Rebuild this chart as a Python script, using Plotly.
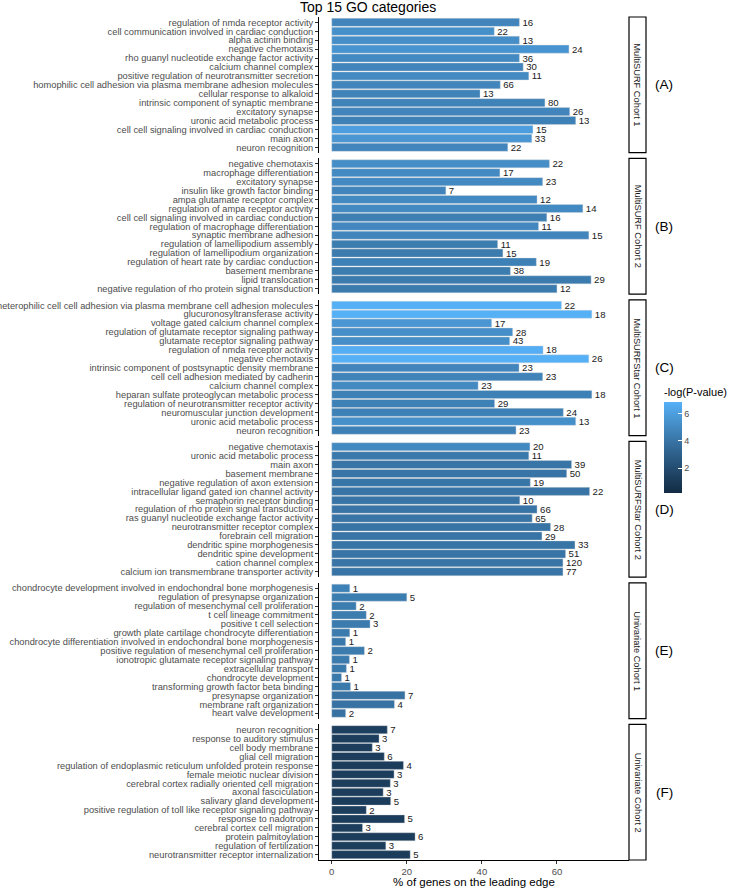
import numpy as np
import plotly.graph_objects as go
from plotly.subplots import make_subplots

# facet labels
panels = ["MultiSURF Cohort 1", "MultiSURF Cohort 2", "MultiSURFStar Cohort 1",
          "MultiSURFStar Cohort 2", "Univariate Cohort 1", "Univariate Cohort 2"]
tags = ["(A)", "(B)", "(C)", "(D)", "(E)", "(F)"]

# (A) MultiSURF Cohort 1
terms_a = ["regulation of nmda receptor activity", "cell communication involved in cardiac conduction",
           "alpha actinin binding", "negative chemotaxis", "rho guanyl nucleotide exchange factor activity",
           "calcium channel complex", "positive regulation of neurotransmitter secretion",
           "homophilic cell adhesion via plasma membrane adhesion molecules", "cellular response to alkaloid",
           "intrinsic component of synaptic membrane", "excitatory synapse", "uronic acid metabolic process",
           "cell cell signaling involved in cardiac conduction", "main axon", "neuron recognition"]
pct_a = [50.0, 43.3, 50.0, 63.2, 50.0, 51.0, 52.5, 44.9, 39.5, 56.8, 63.4, 65.0, 53.6, 53.3, 46.9]
count_a = [16, 22, 13, 24, 36, 30, 11, 66, 13, 80, 26, 13, 15, 33, 22]
logp_a = [4.8, 5.3, 5.2, 5.5, 5.0, 4.8, 5.1, 4.8, 4.7, 4.7, 4.8, 4.6, 6.0, 5.6, 4.8]

# (B) MultiSURF Cohort 2
terms_b = ["negative chemotaxis", "macrophage differentiation", "excitatory synapse",
           "insulin like growth factor binding", "ampa glutamate receptor complex",
           "regulation of ampa receptor activity", "cell cell signaling involved in cardiac conduction",
           "regulation of macrophage differentiation", "synaptic membrane adhesion",
           "regulation of lamellipodium assembly", "regulation of lamellipodium organization",
           "regulation of heart rate by cardiac conduction", "basement membrane", "lipid translocation",
           "negative regulation of rho protein signal transduction"]
pct_b = [58.0, 44.8, 56.2, 30.4, 54.7, 66.9, 57.3, 55.1, 68.5, 44.2, 45.6, 54.5, 47.6, 69.1, 60.0]
count_b = [22, 17, 23, 7, 12, 14, 16, 11, 15, 11, 15, 19, 38, 29, 12]
logp_b = [5.2, 5.0, 5.0, 4.8, 5.0, 5.0, 4.5, 4.9, 4.8, 4.4, 4.3, 4.6, 4.4, 4.3, 4.3]

# (C) MultiSURFStar Cohort 1
terms_c = ["heterophilic cell cell adhesion via plasma membrane cell adhesion molecules",
           "glucuronosyltransferase activity", "voltage gated calcium channel complex",
           "regulation of glutamate receptor signaling pathway", "glutamate receptor signaling pathway",
           "regulation of nmda receptor activity", "negative chemotaxis",
           "intrinsic component of postsynaptic density membrane", "cell cell adhesion mediated by cadherin",
           "calcium channel complex", "heparan sulfate proteoglycan metabolic process",
           "regulation of neurotransmitter receptor activity", "neuromuscular junction development",
           "uronic acid metabolic process", "neuron recognition"]
pct_c = [61.2, 69.3, 42.6, 48.2, 47.4, 56.3, 68.5, 49.9, 56.2, 39.0, 69.3, 43.4, 61.7, 65.0, 49.1]
count_c = [22, 18, 17, 28, 43, 18, 26, 23, 23, 23, 18, 29, 24, 13, 23]
logp_c = [6.8, 6.8, 5.6, 5.2, 5.2, 6.7, 6.8, 4.8, 4.7, 5.0, 4.6, 4.6, 4.6, 5.3, 4.6]

# (D) MultiSURFStar Cohort 2
terms_d = ["negative chemotaxis", "uronic acid metabolic process", "main axon", "basement membrane",
           "negative regulation of axon extension", "intracellular ligand gated ion channel activity",
           "semaphorin receptor binding", "regulation of rho protein signal transduction",
           "ras guanyl nucleotide exchange factor activity", "neurotransmitter receptor complex",
           "forebrain cell migration", "dendritic spine morphogenesis", "dendritic spine development",
           "cation channel complex", "calcium ion transmembrane transporter activity"]
pct_d = [52.8, 52.5, 63.9, 62.6, 52.9, 68.7, 50.1, 54.7, 53.4, 58.3, 56.0, 64.8, 62.3, 61.6, 61.6]
count_d = [20, 11, 39, 50, 19, 22, 10, 66, 65, 28, 29, 33, 51, 120, 77]
logp_d = [5.0, 4.2, 4.0, 4.0, 4.1, 4.0, 4.0, 4.0, 4.0, 4.0, 4.0, 4.0, 4.0, 4.0, 4.0]

# (E) Univariate Cohort 1
terms_e = ["chondrocyte development involved in endochondral bone morphogenesis",
           "regulation of presynapse organization", "regulation of mesenchymal cell proliferation",
           "t cell lineage commitment", "positive t cell selection",
           "growth plate cartilage chondrocyte differentiation",
           "chondrocyte differentiation involved in endochondral bone morphogenesis",
           "positive regulation of mesenchymal cell proliferation",
           "ionotropic glutamate receptor signaling pathway", "extracellular transport",
           "chondrocyte development", "transforming growth factor beta binding", "presynapse organization",
           "membrane raft organization", "heart valve development"]
pct_e = [4.8, 20.0, 6.5, 9.2, 10.2, 4.8, 3.7, 8.7, 4.7, 3.9, 2.6, 5.0, 19.5, 16.7, 3.7]
count_e = [1, 5, 2, 2, 3, 1, 1, 2, 1, 1, 1, 1, 7, 4, 2]
logp_e = [4.6, 4.4, 4.4, 4.4, 4.3, 4.3, 4.2, 4.3, 4.3, 4.2, 4.2, 4.2, 3.9, 3.9, 3.9]

# (F) Univariate Cohort 2
terms_f = ["neuron recognition", "response to auditory stimulus", "cell body membrane",
           "glial cell migration", "regulation of endoplasmic reticulum unfolded protein response",
           "female meiotic nuclear division", "cerebral cortex radially oriented cell migration",
           "axonal fasciculation", "salivary gland development",
           "positive regulation of toll like receptor signaling pathway", "response to nadotropin",
           "cerebral cortex cell migration", "protein palmitoylation", "regulation of fertilization",
           "neurotransmitter receptor internalization"]
pct_f = [14.8, 12.6, 10.8, 14.0, 19.1, 16.6, 15.6, 13.7, 15.7, 9.2, 19.4, 8.2, 22.2, 14.4, 20.9]
count_f = [7, 3, 3, 6, 4, 3, 3, 3, 5, 2, 5, 3, 6, 3, 5]
logp_f = [1.3, 1.2, 1.2, 1.2, 1.1, 1.2, 1.2, 1.2, 1.1, 1.2, 1.1, 1.2, 1.1, 1.2, 1.1]

x_ticks = [0, 20, 40, 60]
cb_ticks = [2, 4, 6]

all_terms = [terms_a, terms_b, terms_c, terms_d, terms_e, terms_f]
all_pct = [pct_a, pct_b, pct_c, pct_d, pct_e, pct_f]
all_count = [count_a, count_b, count_c, count_d, count_e, count_f]
all_logp = [logp_a, logp_b, logp_c, logp_d, logp_e, logp_f]


# ggplot-like gradient (interpolated in Lab space)
def hex_to_lab(h):
    c = np.array([int(h[i:i + 2], 16) for i in (1, 3, 5)]) / 255
    c = np.where(c <= 0.04045, c / 12.92, ((c + 0.055) / 1.055) ** 2.4)
    m = np.array([[0.4124, 0.3576, 0.1805], [0.2126, 0.7152, 0.0722], [0.0193, 0.1192, 0.9505]])
    xyz = m @ c / (m @ np.ones(3))
    f = np.where(xyz > 0.008856, np.cbrt(xyz), 7.787 * xyz + 16 / 116)
    return np.array([116 * f[1] - 16, 500 * (f[0] - f[1]), 200 * (f[1] - f[2])])


def lab_to_hex(lab):
    fy = (lab[0] + 16) / 116
    f = np.array([fy + lab[1] / 500, fy, fy - lab[2] / 200])
    m = np.array([[0.4124, 0.3576, 0.1805], [0.2126, 0.7152, 0.0722], [0.0193, 0.1192, 0.9505]])
    xyz = np.where(f ** 3 > 0.008856, f ** 3, (f - 16 / 116) / 7.787) * (m @ np.ones(3))
    c = np.linalg.solve(m, xyz)
    c = np.where(c <= 0.0031308, 12.92 * c, 1.055 * np.abs(c) ** (1 / 2.4) - 0.055)
    c = np.clip(np.round(c * 255), 0, 255).astype(int)
    return "#%02x%02x%02x" % tuple(c)


lo, hi = hex_to_lab("#132B43"), hex_to_lab("#56B1F7")
scale = [[t, lab_to_hex(lo + (hi - lo) * t)] for t in np.linspace(0, 1, 11)]

# panel area spans 310 px of the 410 px paper; the rest holds strips, tags and colour bar
W_PAPER = 410
X_END = 310 / W_PAPER
STRIP_W = 17 / W_PAPER
SIDE_X = (664 - 319) / W_PAPER

fig = make_subplots(rows=6, cols=1, shared_xaxes=True, vertical_spacing=5.8 / 843)

for i in range(6):
    fig.add_trace(go.Bar(
        x=all_pct[i], y=all_terms[i], orientation="h",
        marker=dict(color=all_logp[i], coloraxis="coloraxis",
                    line=dict(color="rgba(210,215,220,0.8)", width=0.5)),
        text=[str(c) for c in all_count[i]], textposition="outside", constraintext="none",
        textfont=dict(size=9.6, color="#1A1A1A"), cliponaxis=False,
        showlegend=False, hoverinfo="skip"), row=i + 1, col=1)

    yname = "yaxis" if i == 0 else "yaxis%d" % (i + 1)
    fig.layout[yname].update(
        type="category", categoryorder="array", categoryarray=all_terms[i],
        tickmode="array", tickvals=all_terms[i], ticktext=all_terms[i],
        range=[14.6, -0.6], showline=True, linecolor="black", linewidth=0.8,
        ticks="outside", ticklen=3, tickcolor="#333333", tickwidth=0.8,
        tickfont=dict(size=9.3, color="#4D4D4D"), showgrid=False, automargin=False)

    ydom = "y domain" if i == 0 else "y%d domain" % (i + 1)
    fig.add_shape(type="rect", xref="paper", yref=ydom, x0=X_END, x1=X_END + STRIP_W, y0=0, y1=1,
                  line=dict(color="black", width=1.2), fillcolor="white")
    fig.add_annotation(xref="paper", yref=ydom, x=X_END + STRIP_W / 2, y=0.5, text=panels[i],
                       xanchor="center", yanchor="middle", textangle=90, showarrow=False,
                       font=dict(size=9.3, color="#1A1A1A"))
    fig.add_annotation(xref="paper", yref=ydom, x=SIDE_X, y=0.5, text=tags[i],
                       xanchor="center", yanchor="middle", showarrow=False,
                       font=dict(size=13.5, color="black"))

for i in range(6):
    xname = "xaxis" if i == 0 else "xaxis%d" % (i + 1)
    last = i == 5
    fig.layout[xname].update(
        domain=[0, X_END], range=[-3.4, 79.2], showgrid=False, zeroline=False, automargin=False,
        showline=last, linecolor="black", linewidth=0.8,
        ticks="outside" if last else "", ticklen=3, tickcolor="#333333",
        tickvals=x_ticks, showticklabels=last,
        tickfont=dict(size=9.5, color="#4D4D4D"))

fig.update_xaxes(title=dict(text="% of genes on the leading edge", font=dict(size=11.5, color="black"),
                            standoff=2), row=6, col=1)

fig.update_layout(
    width=729, height=888,
    margin=dict(l=319, r=0, t=17, b=28),
    paper_bgcolor="white", plot_bgcolor="white",
    font=dict(family="Liberation Sans, Arial, sans-serif"),
    bargap=0.1,
    title=dict(text="Top 15 GO categories", x=0.505, xanchor="center", y=1 - 7.5 / 888, yanchor="middle",
               font=dict(size=14, color="black")),
    coloraxis=dict(
        colorscale=scale, cmin=0.17, cmax=6.84,
        colorbar=dict(x=SIDE_X, xanchor="left", xpad=0, ypad=0,
                      y=(860 - 493) / 843, yanchor="bottom",
                      len=108, lenmode="pixels", thickness=18, outlinewidth=0,
                      title=dict(text="-log(P-value)", side="top", font=dict(size=11, color="black")),
                      tickvals=cb_ticks, ticks="inside", ticklen=4, tickcolor="white",
                      tickfont=dict(size=9, color="#4D4D4D"))),
)

# drop the browser's default 8px page margin so the figure sits at the window corner
fig.write_html("out.html", config={"displayModeBar": False},
               post_script="document.body.style.margin='0';")
